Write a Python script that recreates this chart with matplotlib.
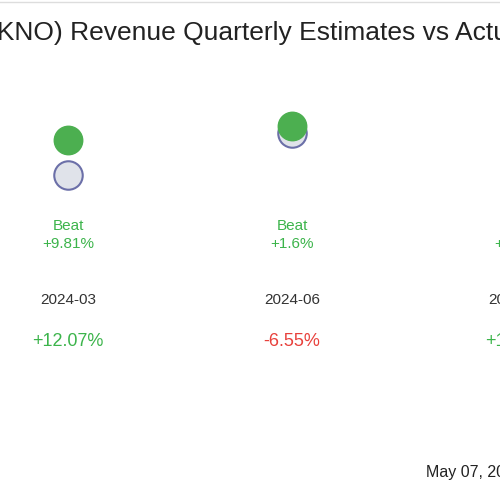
import matplotlib
matplotlib.use("Agg")
import matplotlib.pyplot as plt

plt.rcParams['font.family'] = ['Liberation Sans', 'DejaVu Sans']

quarters = ["2024-03", "2024-06", "2024-09"]
estimates = [100.0, 111.8, 115.0]
actuals = [109.81, 113.6, 121.0]
surprise = ["+9.81%", "+1.6%", "+5.2%"]
yoy = ["+12.07%", "-6.55%", "+10.5%"]
yoy_colors = ["#3cb44b", "#e8413c", "#3cb44b"]

fig = plt.figure(figsize=(5, 5), dpi=100)
ax = fig.add_axes([0, 0, 1, 1])
ax.set_xlim(-68/224, 432/224)
ax.set_ylim(8.97, 149.0)
ax.axis("off")

x = list(range(len(quarters)))
ax.scatter(x, estimates, s=420, color="#e0e3ea", edgecolor="#6b6fa8", linewidth=1.5, zorder=2)
ax.scatter(x, actuals, s=420, color="#4caf50", edgecolor="#4caf50", zorder=3)

green = "#3cb44b"
for i in x:
    ax.text(i, 1 - 226/500, "Beat", transform=ax.get_xaxis_transform(), ha="center", va="center", color=green, fontsize=11)
    ax.text(i, 1 - 244/500, surprise[i], transform=ax.get_xaxis_transform(), ha="center", va="center", color=green, fontsize=11)
    ax.text(i, 1 - 300/500, quarters[i], transform=ax.get_xaxis_transform(), ha="center", va="center", color="#333333", fontsize=11)
    ax.text(i, 1 - 342/500, yoy[i], transform=ax.get_xaxis_transform(), ha="center", va="center", color=yoy_colors[i], fontsize=13)

fig.text(-0.025, 1 - 33/500, "(KNO) Revenue Quarterly Estimates vs Actuals", ha="left", va="center", fontsize=19, color="#222222")
fig.text(0.852, 1 - 473/500, "May 07, 2024", ha="left", va="center", fontsize=11.5, color="#222222")
fig.add_artist(plt.Line2D([0, 1], [0.997, 0.997], color="#dddddd", lw=1))

fig.savefig("out.png", dpi=100)
